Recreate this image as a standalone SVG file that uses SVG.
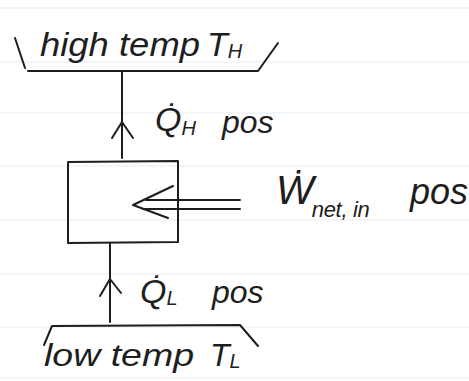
<svg xmlns="http://www.w3.org/2000/svg" width="469" height="381" viewBox="0 0 469 381">
  <style>
    .ink { fill: none; stroke: #1e1e1e; stroke-width: 2; stroke-linecap: round; stroke-linejoin: round; }
    .rule { stroke: #edf3f6; stroke-width: 1.5; }
    .hand { font-family: "Liberation Sans", "DejaVu Sans", sans-serif; font-style: italic; fill: #1e1e1e; }
  </style>
  <rect width="469" height="381" fill="#ffffff"/>
  <g id="paper-rules">
    <line class="rule" x1="0" y1="8" x2="469" y2="8"/>
    <line class="rule" x1="0" y1="62" x2="469" y2="62"/>
    <line class="rule" x1="0" y1="113" x2="469" y2="113"/>
    <line class="rule" x1="0" y1="166" x2="469" y2="166"/>
    <line class="rule" x1="0" y1="220" x2="469" y2="220"/>
    <line class="rule" x1="0" y1="274" x2="469" y2="274"/>
    <line class="rule" x1="0" y1="327" x2="469" y2="327"/>
    <line class="rule" x1="0" y1="378" x2="469" y2="378"/>
  </g>

  <g id="hot-reservoir">
    <path class="ink" d="M 15 38 L 25 68"/>
    <path class="ink" d="M 28 71 L 258 71 L 278 43"/>
    <text class="hand" x="40" y="56" font-size="34" textLength="160" lengthAdjust="spacingAndGlyphs">high temp</text>
    <text class="hand" x="207" y="56" font-size="34">T<tspan font-size="20" dy="2">H</tspan></text>
  </g>

  <g id="engine">
    <path class="ink" d="M 68 162 L 178 161 L 178 242 L 68 243 Z"/>
  </g>

  <g id="cold-reservoir">
    <path class="ink" d="M 44 345 L 52 326 L 240 325 L 258 346"/>
    <text class="hand" x="44" y="366" font-size="32" textLength="150" lengthAdjust="spacingAndGlyphs">low temp</text>
    <text class="hand" x="210" y="366" font-size="32">T<tspan font-size="20" dy="2">L</tspan></text>
  </g>

  <g id="connectors">
    <path class="ink" d="M 122 158 L 122 72"/>
    <path class="ink" d="M 112 138 L 122 122 L 133 138"/>
    <path class="ink" d="M 110 322 L 110 243"/>
    <path class="ink" d="M 100 296 L 110 279 L 121 293"/>
    <path class="ink" d="M 146 200 L 240 200 M 143 209 L 240 209"/>
    <path class="ink" d="M 173 186 L 133 205 L 168 218"/>
  </g>

  <g id="label-qh">
    <text class="hand" x="155" y="131" font-size="34">Q̇<tspan font-size="20" dy="4">H</tspan></text>
    <text class="hand" x="222" y="133" font-size="32">pos</text>
  </g>
  <g id="label-w">
    <text class="hand" x="276" y="204" font-size="40">Ẇ<tspan font-size="22" dx="-2" dy="13" textLength="58" lengthAdjust="spacing">net, in</tspan></text>
    <text class="hand" x="410" y="204" font-size="36">pos</text>
  </g>
  <g id="label-ql">
    <text class="hand" x="140" y="303" font-size="34">Q̇<tspan font-size="20" dy="2">L</tspan></text>
    <text class="hand" x="212" y="303" font-size="32">pos</text>
  </g>
</svg>
